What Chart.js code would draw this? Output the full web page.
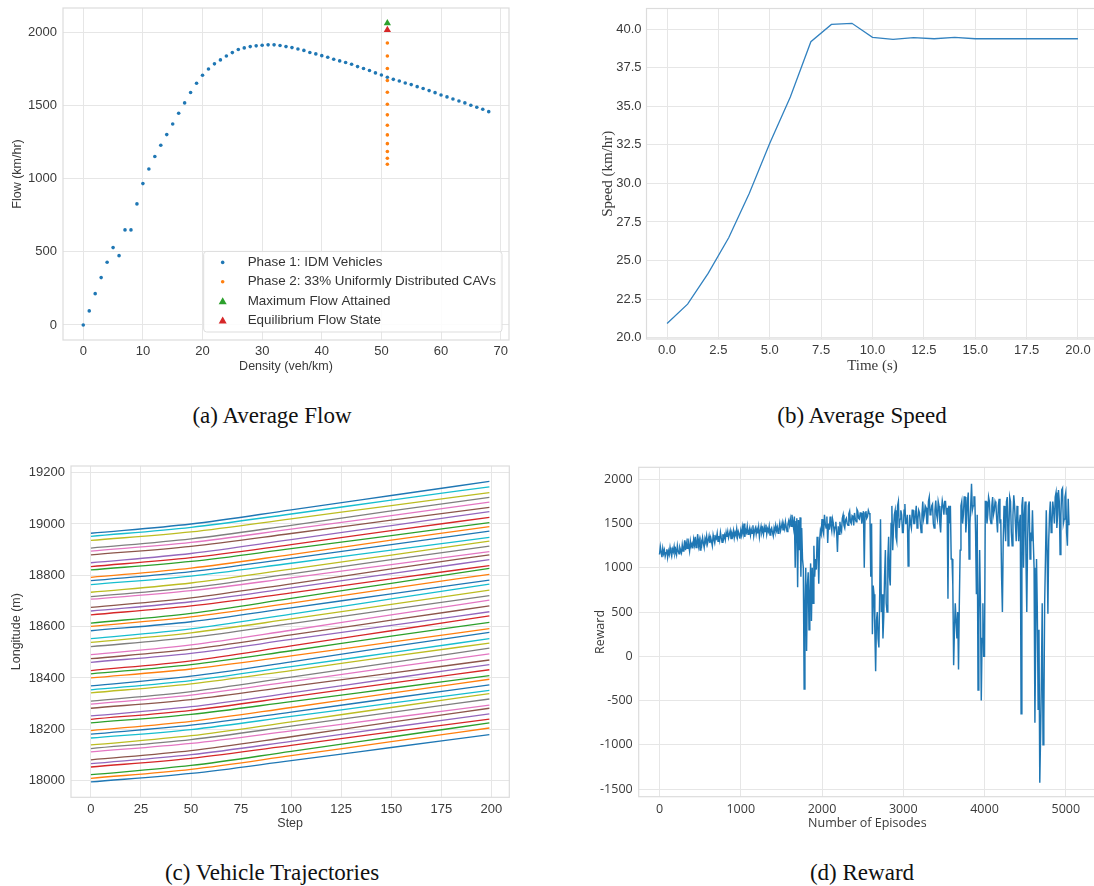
<!DOCTYPE html>
<html>
<head>
<meta charset="utf-8">
<script src="https://cdn.jsdelivr.net/npm/chart.js@4.4.0/dist/chart.umd.min.js"></script>
<style>
  html, body { margin: 0; background: #fff; }
  #page { position: relative; width: 1094px; height: 886px; overflow: hidden; }
  canvas { position: absolute; }
  .caption {
    position: absolute; transform: translateX(-50%); white-space: nowrap;
    font-family: "Liberation Serif", "Times New Roman", serif; font-size: 23px; line-height: 23px; color: #111;
  }
</style>
</head>
<body>
<div id="page">
  <canvas id="flow" width="520" height="385" style="left:0px;top:0px"></canvas>
  <canvas id="speed" width="560" height="385" style="left:550px;top:0px"></canvas>
  <canvas id="traj" width="520" height="400" style="left:0px;top:450px"></canvas>
  <canvas id="reward" width="545" height="400" style="left:560px;top:450px"></canvas>
  <div class="caption" style="left:272px;top:404px">(a) Average Flow</div>
  <div class="caption" style="left:862px;top:404px">(b) Average Speed</div>
  <div class="caption" style="left:272px;top:861px">(c) Vehicle Trajectories</div>
  <div class="caption" style="left:862px;top:861px">(d) Reward</div>
</div>
<script>
// (a) fundamental diagram
const densities = Array.from({ length: 69 }, (_, i) => i);
const idmFlow = [0, 96, 214, 324, 429, 529, 474, 650, 650, 828, 967, 1067, 1152, 1229, 1302, 1375, 1448, 1519, 1590, 1653,
  1708, 1751, 1786, 1813, 1840, 1863, 1884, 1895, 1904, 1909, 1913, 1916, 1916, 1911, 1904, 1897, 1888, 1878, 1864, 1854,
  1842, 1831, 1817, 1806, 1795, 1783, 1767, 1754, 1740, 1724, 1710, 1694, 1680, 1669, 1655, 1644, 1630, 1617, 1603, 1589,
  1573, 1560, 1546, 1532, 1519, 1503, 1489, 1475, 1459];
const cavDensity = 51;
const cavFlow = [1929, 1840, 1754, 1672, 1592, 1510, 1437, 1366, 1300, 1240, 1186, 1140, 1099];
const maxFlow = 2064;
const equilibriumFlow = 2018;
const flowLegend = ['Phase 1: IDM Vehicles', 'Phase 2: 33% Uniformly Distributed CAVs', 'Maximum Flow Attained', 'Equilibrium Flow State'];
const flowXTicks = [0, 10, 20, 30, 40, 50, 60, 70];
const flowYTicks = [0, 500, 1000, 1500, 2000];

// (b) average speed
const timeSec = [0, 1, 2, 3, 4, 5, 6, 7, 8, 9, 10, 11, 12, 13, 14, 15, 16, 17, 18, 19, 20];
const avgSpeed = [20.93, 22.18, 24.17, 26.48, 29.35, 32.6, 35.6, 39.18, 40.3, 40.37, 39.46, 39.33, 39.44, 39.37, 39.46,
  39.37, 39.37, 39.37, 39.37, 39.37, 39.37];
const speedXTicks = [0, 2.5, 5, 7.5, 10, 12.5, 15, 17.5, 20];
const speedYTicks = [20, 22.5, 25, 27.5, 30, 32.5, 35, 37.5, 40];

// (c) vehicle positions, one entry per vehicle, sampled at trajSteps
const trajSteps = [0, 50, 100, 150, 199];
const trajAt0 = [17995, 18009, 18023, 18053, 18066, 18081, 18112, 18125, 18139, 18166, 18181, 18195, 18225, 18239, 18252,
  18282, 18298, 18310, 18342, 18354, 18369, 18400, 18416, 18429, 18461, 18475, 18491, 18522, 18539, 18553, 18584, 18601,
  18614, 18646, 18661, 18675, 18707, 18717, 18734, 18764, 18779, 18792, 18821, 18834, 18849, 18880, 18894, 18906, 18936,
  18952, 18964];
const trajAt50 = [18028, 18044, 18059, 18087, 18101, 18117, 18145, 18160, 18175, 18199, 18216, 18231, 18258, 18274, 18288,
  18316, 18333, 18347, 18377, 18390, 18407, 18435, 18452, 18467, 18496, 18512, 18529, 18558, 18576, 18591, 18619, 18638,
  18652, 18681, 18697, 18712, 18740, 18752, 18770, 18797, 18814, 18828, 18854, 18869, 18885, 18913, 18928, 18942, 18969,
  18987, 19000];
const trajAt100 = [18078, 18097, 18114, 18137, 18153, 18171, 18194, 18212, 18229, 18250, 18267, 18285, 18308, 18326, 18342,
  18367, 18386, 18403, 18429, 18444, 18463, 18486, 18506, 18525, 18550, 18568, 18586, 18612, 18630, 18649, 18673, 18692,
  18710, 18732, 18751, 18767, 18790, 18806, 18824, 18847, 18866, 18881, 18904, 18920, 18939, 18963, 18980, 18995, 19020,
  19039, 19055];
const trajAt150 = [18129, 18152, 18170, 18190, 18208, 18228, 18245, 18266, 18285, 18302, 18321, 18341, 18359, 18380, 18398,
  18419, 18441, 18460, 18484, 18499, 18522, 18540, 18563, 18584, 18605, 18625, 18646, 18667, 18687, 18708, 18728, 18749,
  18769, 18786, 18807, 18825, 18842, 18861, 18879, 18898, 18920, 18937, 18955, 18974, 18994, 19015, 19033, 19051, 19072,
  19093, 19111];
const trajAt199 = [18179, 18205, 18225, 18240, 18260, 18282, 18294, 18318, 18339, 18352, 18373, 18395, 18409, 18432, 18452,
  18470, 18494, 18516, 18536, 18553, 18578, 18592, 18617, 18642, 18658, 18681, 18703, 18721, 18742, 18766, 18781, 18804,
  18827, 18838, 18861, 18880, 18892, 18914, 18933, 18948, 18972, 18990, 19005, 19026, 19048, 19065, 19085, 19104, 19122,
  19145, 19166];
const trajXTicks = [0, 25, 50, 75, 100, 125, 150, 175, 200];
const trajYTicks = [18000, 18200, 18400, 18600, 18800, 19000, 19200];

// (d) episode reward, one value every rewardEvery episodes (one row = 100 episodes)
const rewardEvery = 10;
const reward = [
  1150, 1240, 1180, 1120, 1220, 1160, 1200, 1130, 1170, 1210,
  1120, 1190, 1150, 1230, 1170, 1130, 1210, 1180, 1240, 1160,
  1200, 1150, 1250, 1190, 1160, 1230, 1200, 1170, 1260, 1190,
  1230, 1310, 1200, 1280, 1220, 1330, 1250, 1190, 1300, 1240,
  1270, 1220, 1320, 1260, 1350, 1230, 1290, 1380, 1250, 1310,
  1200, 1300, 1260, 1340, 1280, 1230, 1330, 1290, 1360, 1270,
  1310, 1360, 1280, 1340, 1300, 1250, 1370, 1320, 1280, 1350,
  1330, 1390, 1300, 1360, 1310, 1400, 1340, 1290, 1380, 1330,
  1370, 1320, 1400, 1350, 1410, 1340, 1380, 1420, 1330, 1390,
  1360, 1420, 1340, 1400, 1370, 1440, 1350, 1410, 1380, 1330,
  1420, 1370, 1460, 1390, 1500, 1350, 1430, 1400, 1470, 1380,
  1410, 1450, 1370, 1430, 1390, 1480, 1360, 1420, 1450, 1380,
  1440, 1390, 1460, 1350, 1420, 1470, 1400, 1440, 1380, 1460,
  1410, 1490, 1380, 1440, 1410, 1470, 1370, 1430, 1450, 1400,
  1360, 1450, 1410, 1480, 1420, 1460, 1390, 1440, 1500, 1420,
  1460, 1510, 1430, 1480, 1440, 1520, 1460, 1410, 1490, 1530,
  1480, 1550, 1470, 1600, 1520, 1450, 1580, 1000, 1520, 1560,
  780, 1540, 1200, 1570, 900, 1450, 1100, 1000, -370, 600,
  1000, 60, 800, 950, 300, 700, 1050, 400, 1000, 600,
  1250, 900, 1100, 980, 1350, 1200, 820, 1300, 1420, 1380,
  1550, 1420, 1380, 1600, 1500, 1450, 1580, 1280, 1500, 1430,
  1580, 1480, 1420, 1550, 1500, 1400, 1460, 1520, 1400, 1180,
  1470, 1380, 1520, 1440, 1410, 1560, 1600, 1480, 1450, 1540,
  1560, 1500, 1480, 1610, 1640, 1520, 1500, 1590, 1580, 1480,
  1620, 1550, 1520, 1660, 1640, 1560, 1550, 1620, 1620, 1500,
  1580, 1640, 1000, 1620, 1640, 1560, 1580, 1650, 1620, 1600,
  900, 1500, 250, 800, 700, 300, -170, 400, 500, 200,
  100, 700, 1550, 500, 700, 200, 450, 900, 1200, 600,
  500, 1100, 1350, 900, 800, 1500, 1700, 1200, 1450, 1600,
  1650, 1350, 1300, 1700, 1750, 1450, 1550, 1650, 1600, 1400,
  1400, 1650, 1720, 1500, 1500, 1600, 1020, 1400, 1600, 1500,
  1450, 1650, 1650, 1500, 1500, 1600, 1700, 1450, 1550, 1650,
  1620, 1500, 1400, 1600, 1750, 1550, 1600, 1700, 1680, 1500,
  1500, 1750, 1800, 1600, 1620, 1700, 1720, 1500, 1450, 1650,
  1760, 1600, 1550, 1750, 1700, 1500, 1400, 1650, 1760, 1700,
  1600, 1750, 1750, 1600, 1680, 650, 1700, 1500, 1700, 1100,
  1100, 800, -100, 300, 600, 400, 200, 500, -150, 600,
  1200, 1700, 1750, 1500, 1600, 1800, 1800, 1400, 1550, 1750,
  1850, 1100, 1500, 1700, 1950, 1650, 1700, 1800, 1800, 1400,
  700, 1600, -380, 400, 1200, 600, -500, 200, 600, 0,
  0, 1750, 1750, 1500, 1600, 1800, 1750, 1550, 1500, 1700,
  1800, 1600, 1650, 1750, 1720, 1550, 1400, 1700, 1780, 1500,
  1550, 900, 500, 1300, 1700, 1500, 1300, 1750, 1800, 1250,
  1450, 1800, 1750, 1400, 1250, 1600, 1820, 1700, 1500, 1300,
  1700, 1600, 1300, 1500, 1600, -650, 1700, 1800, 1000, 1600,
  1750, 1100, 500, 1300, 1700, 1750, 1100, 1400, 1300, 1650,
  1300, 1000, -750, 200, 1100, 500, -600, 300, -1430, -900,
  -250, 600, -1000, -700, 600, 1100, 1650, 1200, 480, 1300,
  1600, 1750, 1400, 1500, 1750, 1650, 1500, 1800, 1850, 1450,
  1600, 1880, 1750, 1150, 1600, 1880, 1900, 1500, 1550, 1800,
  1850, 1400, 1250, 1780, 1480
];
const rewardXTicks = [0, 1000, 2000, 3000, 4000, 5000];
const rewardYTicks = [-1500, -1000, -500, 0, 500, 1000, 1500, 2000];

const tab10 = ['#1f77b4', '#ff7f0e', '#2ca02c', '#d62728', '#9467bd', '#8c564b', '#e377c2', '#7f7f7f', '#bcbd22', '#17becf'];
const GRID = '#e6e6e6';
const FRAME = '#dcdcdc';
const TICK = '#3a3a3a';
const SANS = '"Liberation Sans", Arial, sans-serif';
const SERIF = '"Liberation Serif", "Times New Roman", serif';
const SEGOE = '"Open Sans", "Noto Sans", sans-serif';

Chart.defaults.animation = false;
Chart.defaults.responsive = false;
Chart.defaults.plugins.legend.display = false;
Chart.defaults.plugins.tooltip.enabled = false;

// full box around the plot area, like matplotlib spines
Chart.register({
  id: 'frame',
  afterDraw(chart) {
    const { ctx, chartArea: a } = chart;
    ctx.save();
    ctx.strokeStyle = FRAME;
    ctx.lineWidth = 1.2;
    ctx.strokeRect(a.left, a.top, a.right - a.left, a.bottom - a.top);
    ctx.restore();
  }
});

function axis(o) {
  return {
    type: 'linear',
    min: o.min,
    max: o.max,
    afterBuildTicks: s => { s.ticks = o.ticks.map(v => ({ value: v })); },
    afterFit: s => {
      if (o.horizontal) s.height = o.size; else s.width = o.size;
      s.paddingLeft = s.paddingRight = s.paddingTop = s.paddingBottom = 0;
    },
    grid: { color: GRID, lineWidth: 1, drawTicks: false },
    border: { display: false },
    ticks: {
      color: TICK, font: o.font, padding: o.tickPad, autoSkip: false, maxRotation: 0,
      callback: o.fmt || (v => String(v))
    },
    title: { display: true, text: o.title, color: TICK, font: o.titleFont, padding: o.titlePad }
  };
}

// legend box in the lower right corner of the flow plot
const flowLegendPlugin = {
  id: 'flowLegend',
  afterDraw(chart) {
    const { ctx, chartArea: a } = chart;
    const marks = [
      { kind: 'dot', color: tab10[0] },
      { kind: 'dot', color: tab10[1] },
      { kind: 'tri', color: tab10[2] },
      { kind: 'tri', color: tab10[3] }
    ];
    ctx.save();
    ctx.font = '13.4px ' + SANS;
    const textW = Math.max(...flowLegend.map(t => ctx.measureText(t).width));
    const w = textW + 50, rowH = 19.4, h = rowH * 4 + 3;
    const x = a.right - 7 - w, y = a.bottom - 8 - h;
    ctx.fillStyle = 'rgba(255,255,255,0.85)';
    ctx.strokeStyle = '#dddddd';
    ctx.lineWidth = 1;
    ctx.beginPath();
    ctx.roundRect(x, y, w, h, 3);
    ctx.fill();
    ctx.stroke();
    ctx.textBaseline = 'middle';
    flowLegend.forEach((t, i) => {
      const cy = y + 11 + i * rowH;
      const m = marks[i];
      ctx.fillStyle = m.color;
      ctx.beginPath();
      if (m.kind === 'dot') {
        ctx.arc(x + 19, cy, 1.8, 0, Math.PI * 2);
      } else {
        ctx.moveTo(x + 19, cy - 4);
        ctx.lineTo(x + 23, cy + 3);
        ctx.lineTo(x + 15, cy + 3);
        ctx.closePath();
      }
      ctx.fill();
      ctx.fillStyle = '#333333';
      ctx.fillText(t, x + 44, cy);
    });
    ctx.restore();
  }
};

new Chart(document.getElementById('flow'), {
  type: 'scatter',
  data: {
    datasets: [
      { data: [{ x: cavDensity, y: equilibriumFlow }], pointStyle: 'triangle', pointRadius: 4.2,
        backgroundColor: tab10[3], borderWidth: 0 },
      { data: [{ x: cavDensity, y: maxFlow }], pointStyle: 'triangle', pointRadius: 4.2,
        backgroundColor: tab10[2], borderWidth: 0 },
      { data: cavFlow.map(y => ({ x: cavDensity, y })), pointRadius: 1.8, backgroundColor: tab10[1], borderWidth: 0 },
      { data: densities.map((x, i) => ({ x, y: idmFlow[i] })), pointRadius: 1.8, backgroundColor: tab10[0], borderWidth: 0 }
    ]
  },
  options: {
    layout: { padding: { left: 0, top: 8, right: 11, bottom: 0 } },
    scales: {
      x: axis({ min: -3.4, max: 71.4, ticks: flowXTicks, size: 45, horizontal: true, tickPad: 4,
        font: { family: SANS, size: 13 }, title: 'Density (veh/km)', titleFont: { family: SANS, size: 12.5 },
        titlePad: { top: 0, bottom: 11 } }),
      y: axis({ min: -103, max: 2168, ticks: flowYTicks, size: 63, tickPad: 6,
        font: { family: SANS, size: 13 }, title: 'Flow (km/hr)', titleFont: { family: SANS, size: 12.5 },
        titlePad: { top: 10, bottom: 0 } })
    }
  },
  plugins: [flowLegendPlugin]
});

new Chart(document.getElementById('speed'), {
  type: 'line',
  data: {
    datasets: [{
      data: timeSec.map((x, i) => ({ x, y: avgSpeed[i] })),
      borderColor: '#3282c0', borderWidth: 1.3, pointRadius: 0, tension: 0
    }]
  },
  options: {
    layout: { padding: { left: 0, top: 8.5, right: 11.5, bottom: 0 } },
    scales: {
      x: axis({ min: -1, max: 21, ticks: speedXTicks, size: 46, horizontal: true, tickPad: 4,
        font: { family: SANS, size: 13 }, fmt: v => v.toFixed(1), title: 'Time (s)',
        titleFont: { family: SERIF, size: 15 }, titlePad: { top: 0, bottom: 10 } }),
      y: axis({ min: 19.92, max: 41.33, ticks: speedYTicks, size: 96.5, tickPad: 5,
        font: { family: SANS, size: 13 }, fmt: v => v.toFixed(1), title: 'Speed (km/hr)',
        titleFont: { family: SERIF, size: 15 }, titlePad: { top: 49, bottom: 0 } })
    }
  }
});

const trajSamples = [trajAt0, trajAt50, trajAt100, trajAt150, trajAt199];
new Chart(document.getElementById('traj'), {
  type: 'line',
  data: {
    datasets: trajAt0.map((_, v) => ({
      data: trajSteps.map((x, k) => ({ x, y: trajSamples[k][v] })),
      borderColor: tab10[v % 10], borderWidth: 1.3, pointRadius: 0, cubicInterpolationMode: 'monotone'
    }))
  },
  options: {
    layout: { padding: { left: 0, top: 16, right: 10.7, bottom: 0 } },
    scales: {
      x: axis({ min: -9.95, max: 208.95, ticks: trajXTicks, size: 52.7, horizontal: true, tickPad: 4,
        font: { family: SANS, size: 13 }, title: 'Step', titleFont: { family: SANS, size: 12.5 },
        titlePad: { top: 0, bottom: 18.5 } }),
      y: axis({ min: 17935, max: 19226, ticks: trajYTicks, size: 71, tickPad: 6,
        font: { family: SANS, size: 13 }, title: 'Longitude (m)', titleFont: { family: SANS, size: 12.5 },
        titlePad: { top: 9.5, bottom: 0 } })
    }
  }
});

new Chart(document.getElementById('reward'), {
  type: 'line',
  data: {
    datasets: [{
      data: reward.map((y, i) => ({ x: i * rewardEvery, y })),
      borderColor: '#1f77b4', borderWidth: 1.45, pointRadius: 0, tension: 0
    }]
  },
  options: {
    layout: { padding: { left: 0, top: 17.3, right: 9, bottom: 0 } },
    scales: {
      x: axis({ min: -256, max: 5372, ticks: rewardXTicks, size: 53.3, horizontal: true, tickPad: 5,
        font: { family: SEGOE, size: 12.5 }, title: 'Number of Episodes', titleFont: { family: SEGOE, size: 12.5 },
        titlePad: { top: 0, bottom: 19.5 } }),
      y: axis({ min: -1587, max: 2136, ticks: rewardYTicks, size: 78.7, tickPad: 6,
        font: { family: SEGOE, size: 12.5 }, title: 'Reward', titleFont: { family: SEGOE, size: 12.5 },
        titlePad: { top: 32.5, bottom: 0 } })
    }
  }
});
</script>
</body>
</html>
